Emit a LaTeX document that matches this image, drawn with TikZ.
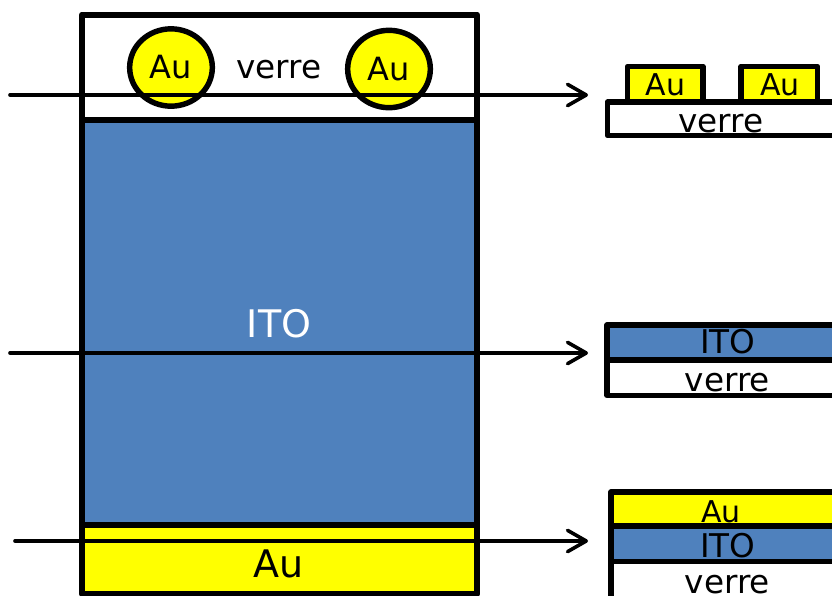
\documentclass[tikz,border=0pt]{standalone}
\usepackage{fontspec}
\setmainfont{DejaVu Sans}
\usetikzlibrary{arrows.meta,shapes.geometric}
\definecolor{itoblue}{HTML}{4F81BD}
\definecolor{auyellow}{HTML}{FFFF00}
\tikzset{
  bigline/.style={draw=black, line width=4.5pt, line join=round},
  stackline/.style={draw=black, line width=4.1pt, line join=round},
  lbl/.style={anchor=base, inner sep=0pt, font=\fontsize{24.5pt}{28pt}\selectfont},
  lblsmall/.style={anchor=base, inner sep=0pt, font=\fontsize{22.5pt}{26pt}\selectfont},
  lblbig/.style={anchor=base, inner sep=0pt, font=\fontsize{28.5pt}{32pt}\selectfont},
  arr/.style={draw=black, line width=2.7pt, line cap=round,
    -{Straight Barb[length=14pt,width=16pt,line join=round,line cap=round]}},
  auball/.style={ellipse, draw=black, fill=auyellow, line width=4.1pt,
    minimum width=62pt, minimum height=58pt, inner sep=0pt,
    font=\fontsize{24pt}{28pt}\selectfont}
}
\begin{document}
\begin{tikzpicture}[x=0.75pt, y=-0.75pt]
\clip (0,0) rectangle (832,596);
\fill[white] (0,0) rectangle (832,596);
% left sample
\draw[bigline, fill=white] (82,14.5) rectangle (477,120);
\draw[bigline, fill=itoblue] (82,120) rectangle (477,525);
\draw[bigline, fill=auyellow] (82,525) rectangle (477,594);
\node[auball] (au1) at (171,67.5) {Au};
\node[auball] (au2) at (389,69) {Au};
\node[lbl] (verreT) at (279,78) {verre};
\node[lblbig, text=white] (itoL) at (279,337) {ITO};
\node[lblbig] (auL) at (279,577) {Au};
% right stack 1
\draw[stackline, fill=auyellow] (627.5,66.5) rectangle (703,102);
\draw[stackline, fill=auyellow] (741,66.5) rectangle (817.5,102);
\draw[stackline, fill=white] (607.5,102) rectangle (850,135.5);
\node[lblsmall] (r1au1) at (665.5,95) {Au};
\node[lblsmall] (r1au2) at (780,95) {Au};
\node[lbl] (r1v) at (721,132) {verre};
% right stack 2
\draw[stackline, fill=itoblue] (607,325) rectangle (850,360);
\draw[stackline, fill=white] (607,360) rectangle (850,395.5);
\node[lbl] (r2i) at (728,353.5) {ITO};
\node[lbl] (r2v) at (727.5,391.5) {verre};
% right stack 3
\draw[stackline, fill=auyellow] (611,492) rectangle (850,526);
\draw[stackline, fill=itoblue] (611,526) rectangle (850,561.5);
\draw[stackline, fill=white] (611,561.5) rectangle (850,610);
\node[lblsmall] (r3a) at (721,522) {Au};
\node[lbl] (r3i) at (728,557.5) {ITO};
\node[lbl] (r3v) at (727.5,593) {verre};
% arrows
\coordinate (s1) at (10,95);  \coordinate (e1) at (588,95);
\coordinate (s2) at (10,353); \coordinate (e2) at (588,353);
\coordinate (s3) at (15,541); \coordinate (e3) at (588,541);
\draw[arr] (s1) -- (e1);
\draw[arr] (s2) -- (e2);
\draw[arr] (s3) -- (e3);
\end{tikzpicture}
\end{document}
